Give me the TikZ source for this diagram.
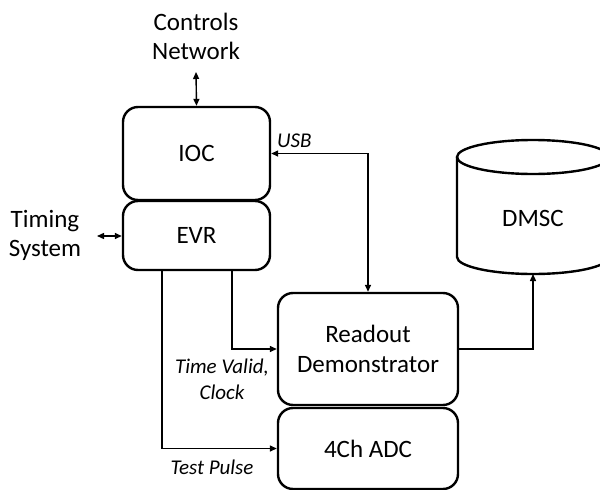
\documentclass[tikz,border=0pt]{standalone}
\usepackage{fontspec}
\setmainfont{Carlito}
\usetikzlibrary{arrows.meta}
\begin{document}
\begin{tikzpicture}[x=1pt,y=-1pt,
  blk/.style={draw,line width=2.4pt,rounded corners=15pt,inner sep=0pt,font=\fontsize{25}{30}\selectfont,align=center},
  lbl/.style={font=\fontsize{25}{29}\selectfont,align=center,inner sep=0pt},
  sig/.style={font=\itshape\fontsize{21}{26}\selectfont,align=center,inner sep=0pt},
  con/.style={line width=1.4pt,-{Triangle[length=7pt,width=6pt]}},
  dcon/.style={line width=1.4pt,{Triangle[length=7pt,width=6pt]}-{Triangle[length=7pt,width=6pt]}}]
\useasboundingbox (0,0) rectangle (600,490);
\clip (0,0) rectangle (600,490);
\fill[white] (0,0) rectangle (600,490);
% blocks
\node[blk,minimum width=147pt,minimum height=93pt] (ioc) at (196.5,153.5) {IOC};
\node[blk,minimum width=147pt,minimum height=69pt] (evr) at (196.5,235.5) {EVR};
\node[blk,minimum width=180pt,minimum height=112pt] (ro) at (368,349) {Readout\\Demonstrator};
\node[blk,minimum width=180pt,minimum height=81pt] (adc) at (368,448.5) {4Ch ADC};
% cylinder
\draw[line width=2.4pt] (457,157) -- (457,257) arc[start angle=180,end angle=360,x radius=76,y radius=-17] -- (609,157);
\draw[line width=2.4pt] (533,157) ellipse[x radius=76,y radius=17];
\node[lbl] (dmsc) at (533,218) {DMSC};
\coordinate (dmscbot) at (533,274);
% external labels
\node[lbl] (ctrl) at (196,36) {Controls\\Network};
\coordinate (ctrlend) at (196,72);
\node[lbl] (tim) at (45,235) {Timing\\System};
\coordinate (timend) at (97,236);
% connectors
\draw[dcon] (ctrlend) -- (ioc.north);
\draw[dcon] (timend) -- (timend -| evr.west);
\draw[dcon] (ioc.east) -| (ro.north);
\draw[con] ([xshift=35.5pt]evr.south) |- (ro.west);
\draw[con] ([xshift=-34.5pt]evr.south) |- (adc.west);
\draw[con] (ro.east) -| (dmscbot);
% signal labels
\node[sig,anchor=west] (usb) at (277,141) {USB};
\node[sig] (tv) at (222,379) {Time Valid,\\Clock};
\node[sig] (tp) at (212,467) {Test Pulse};
\end{tikzpicture}
\end{document}
